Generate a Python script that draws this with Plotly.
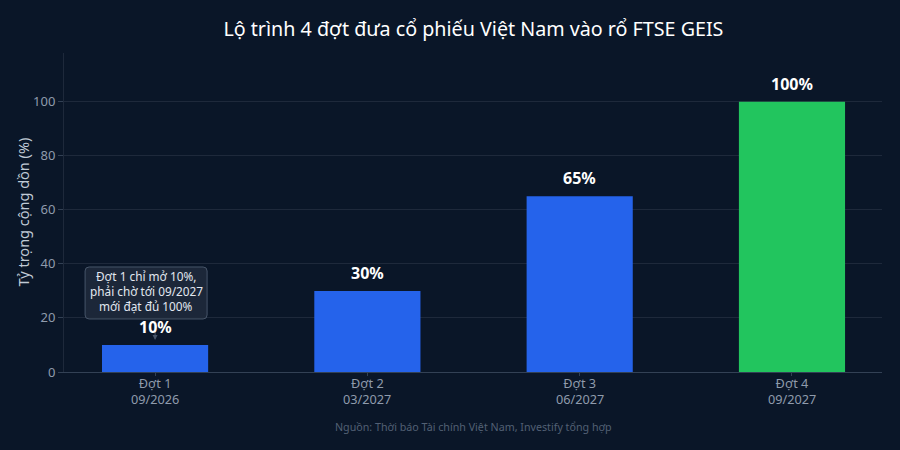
import plotly.graph_objects as go

# Lo trinh FTSE GEIS
categories = ["Đợt 1", "Đợt 2", "Đợt 3", "Đợt 4"]
dates = ["09/2026", "03/2027", "06/2027", "09/2027"]
values = [10, 30, 65, 100]
labels = ["10%", "30%", "65%", "100%"]
bar_colors = ["#2563eb", "#2563eb", "#2563eb", "#22c55e"]
note_lines = ["Đợt 1 chỉ mở 10%,", "phải chờ tới 09/2027", "mới đạt đủ 100%"]
y_title = "Tỷ trọng cộng dồn (%)"
source = "Nguồn: Thời báo Tài chính Việt Nam, Investify tổng hợp"

font = "Noto Sans"
tick_color = "#8f9bac"

fig = go.Figure()
fig.add_trace(go.Bar(
    x=categories,
    y=values,
    width=0.5,
    marker=dict(color=bar_colors, line=dict(width=0)),
    hoverinfo="skip",
))

# rounded box behind the note
fig.add_shape(
    type="path", layer="above",
    xref="x", yref="y", xsizemode="pixel", ysizemode="pixel",
    xanchor=categories[0], yanchor=values[0],
    path="M -70 30 Q -70 26 -66 26 L 48 26 Q 52 26 52 30 L 52 74 Q 52 78 48 78 L -66 78 Q -70 78 -70 74 Z",
    fillcolor="rgba(30,41,59,0.92)",
    line=dict(color="#475569", width=1),
)
# three separate lines, plotly's own line height is too loose here
for i, line in enumerate(note_lines):
    fig.add_annotation(
        x=categories[0], y=values[0],
        text=line,
        showarrow=False,
        xshift=-9, yshift=69 - i * 15,
        font=dict(family=font, size=11.8, color="#e2e8f0"),
    )
# small arrow tip under the note
fig.add_annotation(
    x=categories[0], y=values[0],
    text="",
    showarrow=True, arrowhead=2, arrowsize=1, arrowwidth=1, arrowcolor="#475569",
    ax=0, ay=-26, standoff=5,
)

for cat, val, lab in zip(categories, values, labels):
    fig.add_annotation(
        x=cat, y=val, text=lab,
        showarrow=False, yanchor="bottom", yshift=5,
        font=dict(family=font, size=16, color="#ffffff", weight="bold"),
    )

# second line of the x labels
for cat, date in zip(categories, dates):
    fig.add_annotation(
        x=cat, y=0, text=date,
        showarrow=False, yanchor="top", yshift=-16,
        font=dict(family=font, size=12.7, color=tick_color),
    )

fig.update_layout(
    width=900, height=450,
    paper_bgcolor="#0a1628",
    plot_bgcolor="#0a1628",
    title=dict(text="Lộ trình 4 đợt đưa cổ phiếu Việt Nam vào rổ FTSE GEIS",
               x=0.526, xanchor="center", y=0.935, yanchor="middle",
               font=dict(family=font, size=19.7, color="#ffffff")),
    margin=dict(l=64, r=18, t=53, b=78),
    showlegend=False,
    font=dict(family=font),
    xaxis=dict(range=[-0.429, 3.424], automargin=False,
               showgrid=False, showline=True, linecolor="#334155", linewidth=1,
               tickfont=dict(family=font, size=12.7, color=tick_color),
               ticks="outside", tickcolor="#334155", ticklen=3, ticklabelstandoff=-3),
    yaxis=dict(range=[0, 118], tickvals=[0, 20, 40, 60, 80, 100], automargin=False,
               gridcolor="#1e293b", gridwidth=1, zeroline=False,
               showline=True, linecolor="#1e293b", linewidth=1,
               ticks="outside", tickcolor="#334155", ticklen=5,
               tickfont=dict(family=font, size=13, color=tick_color)),
)

# y title as annotation, the axis title sits too far left without automargin
fig.add_annotation(
    xref="paper", yref="paper", x=0, y=0.5, xanchor="center", yanchor="middle", xshift=-42,
    text=y_title, textangle=-90,
    showarrow=False,
    font=dict(family=font, size=14.5, color="#c0cad6"),
)

fig.add_annotation(
    xref="paper", yref="paper", x=0.5, y=-0.145, yanchor="top",
    text=source,
    showarrow=False,
    font=dict(family=font, size=10.7, color="#526074"),
)

fig.write_html("out.html", config={"displayModeBar": False},
               post_script="document.body.style.margin='0';document.body.style.background='#0a1628';")
